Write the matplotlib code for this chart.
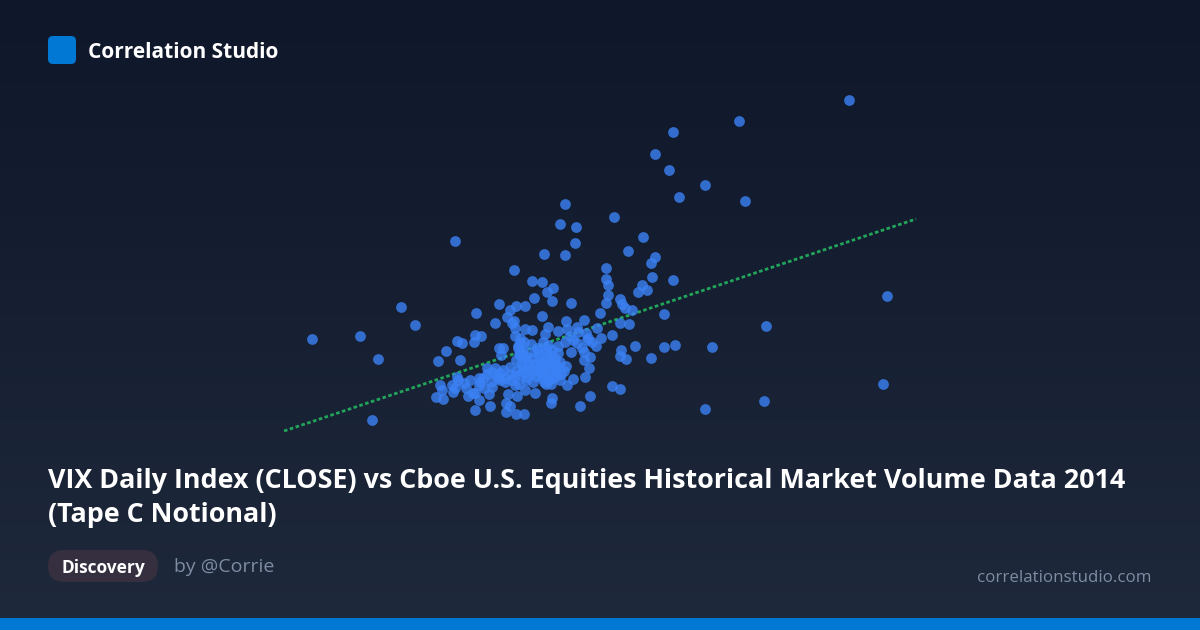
"""Correlation Studio share card: scatter with trend line."""
import numpy as np
import matplotlib
matplotlib.use("Agg")
import matplotlib.pyplot as plt
from matplotlib.patches import FancyBboxPatch, Rectangle

TITLE_LINES = [
    "VIX Daily Index (CLOSE) vs Cboe U.S. Equities Historical Market Volume Data 2014",
    "(Tape C Notional)",
]

# values (hidden axes, same units as the card)
outer_x = [849, 739, 673, 655, 669, 705, 679, 745, 565, 614, 560, 576, 575, 643, 628, 455,
           544, 565, 655, 651, 606, 606, 608, 652, 673, 642, 647, 638, 608, 606, 887, 401,
           415, 312, 360, 378, 372, 766, 664, 664, 675, 712, 651, 883, 764, 705]
outer_y = [100, 121, 132, 154, 170, 185, 197, 201, 204, 217, 224, 227, 243, 237, 251, 241,
           254, 255, 257, 263, 268, 279, 285, 277, 280, 285, 290, 292, 295, 303, 296, 307,
           325, 339, 336, 359, 420, 326, 314, 347, 345, 347, 358, 384, 401, 409]
cluster_x = [514, 532, 542, 553, 547, 534, 552, 571, 499, 516, 525, 510, 476, 507, 542, 600,
             495, 514, 512, 566, 584, 620, 622, 625, 632, 620, 629, 597, 548, 525, 532, 577,
             558, 567, 586, 545, 515, 515, 475, 481, 474, 457, 462, 446, 438, 460, 499, 503,
             501, 520, 523, 518, 520, 531, 543, 537, 548, 573, 577, 587, 592, 601, 612, 571,
             584, 590, 584, 589, 585, 621, 635, 620, 626, 612, 620, 590, 580, 552, 551, 564,
             573, 567, 560, 546, 535, 525, 517, 508, 506, 510, 506, 516, 524, 475, 490, 479,
             475, 489, 492, 479, 479, 453, 452, 464, 457, 440, 442, 436, 443, 487, 495, 503,
             510, 500, 515, 527, 537, 543, 552, 558, 555, 540, 553, 523, 517, 530, 545, 548]
cluster_y = [270, 281, 282, 288, 292, 298, 301, 303, 304, 306, 306, 310, 313, 317, 316, 313,
             323, 321, 323, 321, 320, 299, 304, 308, 310, 323, 324, 328, 327, 329, 330, 327,
             331, 329, 333, 334, 328, 336, 335, 336, 342, 341, 343, 351, 361, 360, 348, 348,
             355, 343, 350, 348, 355, 344, 342, 348, 345, 340, 343, 340, 342, 338, 335, 352,
             352, 357, 360, 368, 377, 350, 346, 356, 359, 386, 389, 396, 406, 398, 403, 371,
             379, 385, 380, 384, 393, 390, 396, 394, 403, 406, 412, 414, 414, 410, 406, 400,
             393, 394, 387, 378, 385, 392, 385, 383, 377, 385, 390, 397, 399, 368, 368, 370,
             367, 380, 385, 377, 363, 362, 360, 353, 365, 373, 378, 367, 370, 370, 370, 363]
# dense core of the cloud, where single dots can only be estimated
core_x = [520, 524, 518, 522, 526, 516, 521, 525, 519, 528, 535, 540, 545, 550, 555, 560,
          538, 543, 548, 553, 558, 541, 546, 551, 556, 536, 532, 528, 524, 520, 515, 510,
          506, 500, 497, 492, 487, 483, 480, 484, 491, 498, 505, 512, 519, 533, 542, 549,
          561, 556, 566, 552, 547, 538, 531, 526, 470, 466, 458, 473, 468, 455, 578, 570,
          565, 582, 588, 596, 544, 551, 539, 534, 546, 558]
core_y = [338, 342, 346, 352, 356, 360, 364, 358, 354, 362, 364, 360, 358, 355, 358, 362,
          368, 366, 364, 368, 366, 372, 375, 372, 370, 376, 372, 368, 372, 374, 376, 374,
          378, 373, 376, 372, 374, 378, 382, 388, 382, 378, 382, 380, 384, 382, 378, 380,
          374, 376, 366, 350, 352, 350, 358, 380, 380, 388, 380, 393, 396, 388, 332, 336,
          342, 348, 338, 346, 382, 384, 355, 352, 348, 346]
trend_x = [284, 916]
trend_y = [431, 219]

BG_TOP = "#0f172a"
BG_BOTTOM = "#1e293b"
ACCENT = "#0078d4"
POINT = "#3b82f6"
TREND = "#22a55b"
PILL = "#352f40"
MUTED = "#7d8ca3"

plt.rcParams["font.family"] = ["Open Sans", "Noto Sans", "DejaVu Sans"]

fig = plt.figure(figsize=(12, 6.3), dpi=100)
ax = fig.add_axes([0, 0, 1, 1])
ax.set_xlim(0, 1200)
ax.set_ylim(630, 0)
ax.axis("off")

# background gradient
top = np.array(matplotlib.colors.to_rgb(BG_TOP))
bottom = np.array(matplotlib.colors.to_rgb(BG_BOTTOM))
t = np.linspace(0, 1, 256)[:, None, None]
ax.imshow(top + (bottom - top) * t, extent=(0, 1200, 630, 0), aspect="auto", zorder=0)

# --- chart ---
ax.plot(trend_x, trend_y, color=TREND, linewidth=2, linestyle=(0, (1.3, 0.9)), zorder=2)
ax.scatter(outer_x + cluster_x + core_x, outer_y + cluster_y + core_y, s=60, color=POINT,
           alpha=0.8, linewidths=0, zorder=3)

# --- header ---
ax.add_patch(FancyBboxPatch((52, 40), 20, 20, boxstyle="round,pad=4,rounding_size=5",
                            facecolor=ACCENT, edgecolor="none", zorder=4))
ax.text(88, 53, "Correlation Studio", color="white", fontsize=15, fontweight="bold",
        va="center", ha="left", zorder=5)

# --- title ---
ax.text(48, 481, TITLE_LINES[0], color="white", fontsize=19.35, fontweight="bold",
        va="center", ha="left", zorder=5)
ax.text(48, 515, TITLE_LINES[1], color="white", fontsize=19.35, fontweight="bold",
        va="center", ha="left", zorder=5)

# --- footer ---
ax.add_patch(FancyBboxPatch((64, 566), 78, 0, boxstyle="round,pad=16,rounding_size=16",
                            facecolor=PILL, edgecolor="none", zorder=4))
ax.text(103, 568, "Discovery", color="white", fontsize=12.5, fontweight="bold",
        va="center", ha="center", zorder=5)
ax.text(174, 567, "by @Corrie", color=MUTED, fontsize=14, va="center", ha="left", zorder=5)
ax.text(1151, 577.5, "correlationstudio.com", color=MUTED, fontsize=12.2, va="center",
        ha="right", zorder=5)
ax.add_patch(Rectangle((0, 618), 1200, 12, facecolor=ACCENT, edgecolor="none", zorder=4))

fig.savefig("out.png", dpi=100)
